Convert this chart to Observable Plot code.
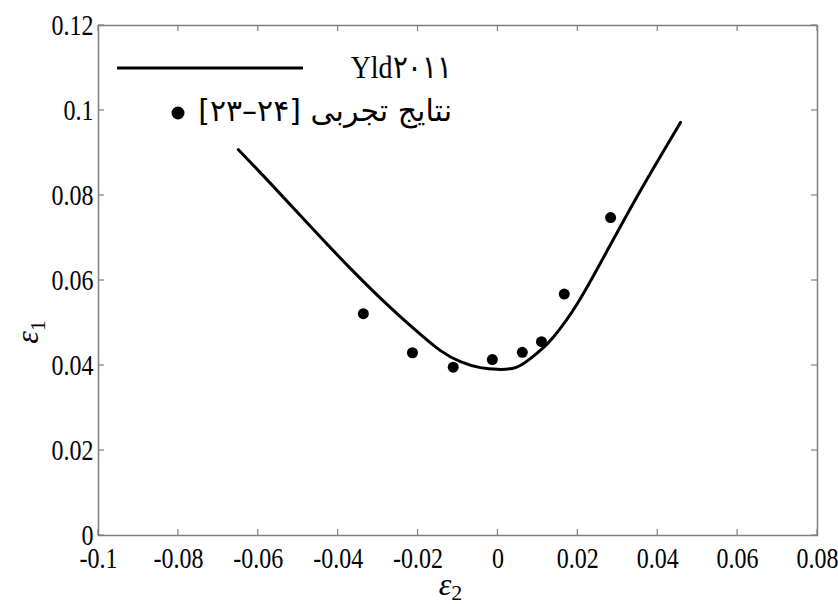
<!DOCTYPE html>
<html>
<head>
<meta charset="utf-8">
<script src="https://cdn.jsdelivr.net/npm/d3@7"></script>
<script src="https://cdn.jsdelivr.net/npm/@observablehq/plot@0.6"></script>
<style>
  html, body { margin: 0; padding: 0; background: #fff; }
  #chart { width: 838px; height: 604px; }
</style>
</head>
<body>
<div id="chart"></div>
<script>
// Model curve (Yld2011)
const curveE2 = [-0.0650, -0.0569, -0.0469, -0.0369, -0.0269, -0.0194, -0.0144, -0.0094, -0.0044, -0.0001, 0.0044, 0.0081, 0.0109, 0.0139, 0.0199, 0.0274, 0.0357, 0.0457];
const curveE1 = [0.0908, 0.0828, 0.0727, 0.0628, 0.0536, 0.0473, 0.0435, 0.0409, 0.0395, 0.0391, 0.0395, 0.0416, 0.0438, 0.0467, 0.0546, 0.0671, 0.0812, 0.0972];
// Experimental points [23-24]
const expE2 = [-0.0337, -0.0214, -0.0112, -0.0014, 0.0061, 0.0109, 0.0166, 0.0282];
const expE1 = [0.0522, 0.0430, 0.0396, 0.0414, 0.0431, 0.0456, 0.0568, 0.0748];
// Ticks
const xTicks = [-0.1, -0.08, -0.06, -0.04, -0.02, 0, 0.02, 0.04, 0.06, 0.08];
const xTickLabels = ["-0.1", "-0.08", "-0.06", "-0.04", "-0.02", "0", "0.02", "0.04", "0.06", "0.08"];
const yTicks = [0, 0.02, 0.04, 0.06, 0.08, 0.1, 0.12];
const yTickLabels = ["0", "0.02", "0.04", "0.06", "0.08", "0.1", "0.12"];
// Legend labels
const legendLabels = ["Yld\u06F2\u06F0\u06F1\u06F1", "\u0646\u062A\u0627\u06CC\u062C \u062A\u062C\u0631\u0628\u06CC [\u06F2\u06F4\u2013\u06F2\u06F3]\u200F"];

const curve = curveE2.map((x, i) => ({x, y: curveE1[i]}));
const pts = expE2.map((x, i) => ({x, y: expE1[i]}));

const frameColor = "#7f7f7f";
const serif = "'Liberation Serif', 'Times New Roman', serif";

function decorations(index, scales, values, dims) {
  const g = d3.create("svg:g");
  const x0 = dims.marginLeft, x1 = dims.width - dims.marginRight;
  const y0 = dims.marginTop, y1 = dims.height - dims.marginBottom;
  const tl = 6;
  // inward ticks on all four sides
  for (const t of xTicks) {
    const px = scales.x(t);
    g.append("line").attr("x1", px).attr("x2", px).attr("y1", y1).attr("y2", y1 - tl).attr("stroke", frameColor).attr("stroke-width", 1.2);
    g.append("line").attr("x1", px).attr("x2", px).attr("y1", y0).attr("y2", y0 + tl).attr("stroke", frameColor).attr("stroke-width", 1.2);
  }
  for (const t of yTicks) {
    const py = scales.y(t);
    g.append("line").attr("y1", py).attr("y2", py).attr("x1", x0).attr("x2", x0 + tl).attr("stroke", frameColor).attr("stroke-width", 1.2);
    g.append("line").attr("y1", py).attr("y2", py).attr("x1", x1).attr("x2", x1 - tl).attr("stroke", frameColor).attr("stroke-width", 1.2);
  }
  // axis labels
  const xl = g.append("text").attr("x", (x0 + x1) / 2 - 7).attr("y", dims.height - 9)
    .attr("text-anchor", "middle").attr("font-size", 32).attr("font-family", serif);
  xl.append("tspan").attr("font-style", "italic").text("\u03B5");
  xl.append("tspan").attr("font-size", 22).attr("dy", 5).text("2");
  const yl = g.append("text").attr("transform", `translate(${x0 - 60},${(y0 + y1) / 2 + 52}) rotate(-90)`)
    .attr("text-anchor", "middle").attr("font-size", 32).attr("font-family", serif);
  yl.append("tspan").attr("font-style", "italic").text("\u03B5");
  yl.append("tspan").attr("font-size", 22).attr("dy", 7).text("1");
  // legend
  const lg = g.append("g").attr("transform", `translate(${x0},${y0})`);
  lg.append("line").attr("x1", 19).attr("x2", 205).attr("y1", 43).attr("y2", 43).attr("stroke", "black").attr("stroke-width", 3);
  lg.append("text").attr("transform", "translate(354,53) scale(1,1.15)").attr("text-anchor", "end")
    .attr("font-size", 28).attr("font-family", serif).text(legendLabels[0]);
  lg.append("circle").attr("cx", 80).attr("cy", 88).attr("r", 6.5).attr("fill", "black");
  lg.append("text").attr("x", 354).attr("y", 96).attr("text-anchor", "end")
    .attr("font-size", 30).attr("font-family", "'DejaVu Sans', sans-serif").text(legendLabels[1]);
  return g.node();
}

const chart = Plot.plot({
  width: 838,
  height: 604,
  marginLeft: 98,
  marginRight: 21,
  marginTop: 25,
  marginBottom: 69,
  style: {fontFamily: serif, fontSize: "24px", color: "black", background: "white", overflow: "visible"},
  x: {domain: [-0.1, 0.08]},
  y: {domain: [0, 0.12]},
  marks: [
    Plot.frame({stroke: frameColor, strokeWidth: 1.5}),
    Plot.axisX({ticks: xTicks, tickSize: 0, tickPadding: 11, tickFormat: (d) => xTickLabels[xTicks.indexOf(d)], label: null, fontSize: 24, fontFamily: serif, fill: "black"}),
    Plot.axisY({ticks: yTicks, tickSize: 0, tickPadding: 5, tickFormat: (d) => yTickLabels[yTicks.indexOf(d)], label: null, fontSize: 24, fontFamily: serif, fill: "black"}),
    Plot.line(curve, {x: "x", y: "y", curve: "natural", stroke: "black", strokeWidth: 3}),
    Plot.dot(pts, {x: "x", y: "y", r: 5.5, fill: "black", stroke: "none"}),
    decorations
  ]
});
// stretch tick labels vertically, like the reference's tall serif digits
d3.select(chart).selectAll("g[aria-label$='tick label'] text").each(function () {
  const t = this.getAttribute("transform") || "";
  this.setAttribute("transform", t + " scale(1,1.25)");
});
document.getElementById("chart").appendChild(chart);
</script>
</body>
</html>
